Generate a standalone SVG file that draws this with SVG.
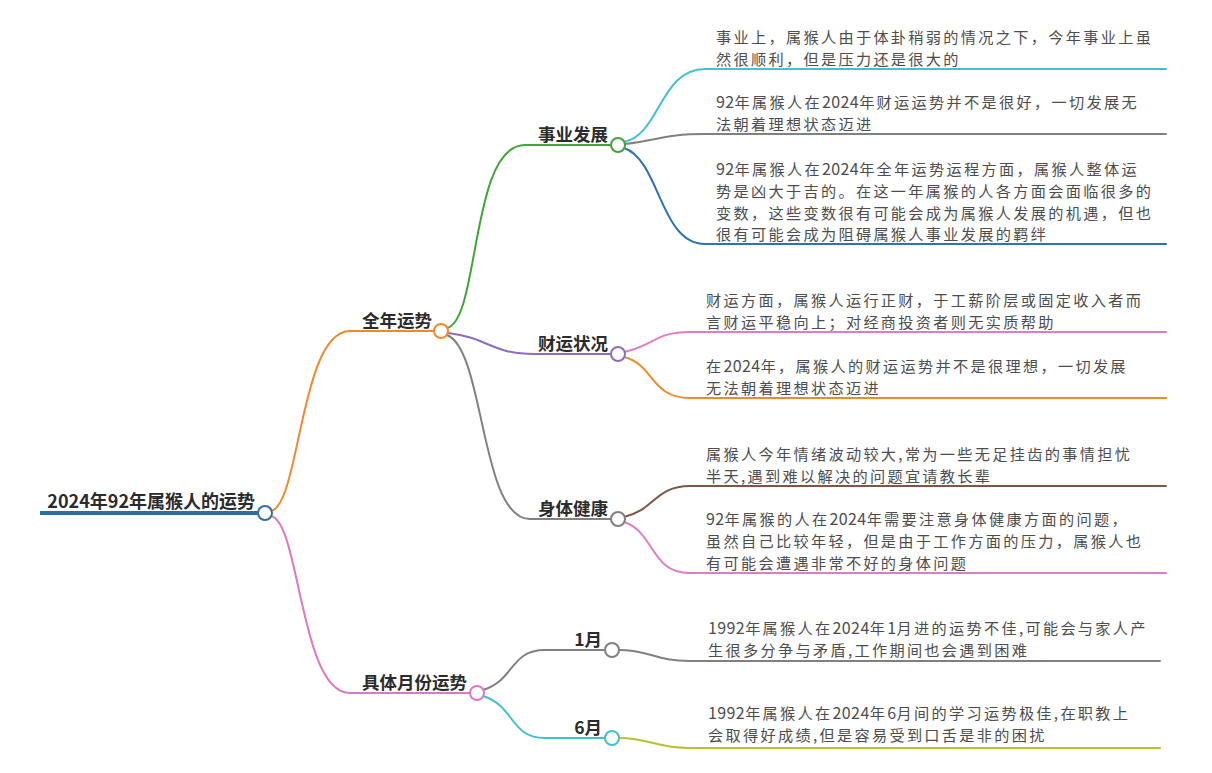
<svg xmlns="http://www.w3.org/2000/svg" width="1212" height="773" viewBox="0 0 1212 773">
<style>
text{font-family:"Noto Sans CJK SC","Noto Sans",sans-serif}
.lbl{font-size:17.5px;font-weight:bold;fill:#2b2b2b;text-anchor:end}
.root{font-size:18px;font-weight:bold;fill:#2b2b2b;text-anchor:end}
.leaf{font-size:15.2px;letter-spacing:2.3px;fill:#4d4d4d}
.d{font-size:16px;letter-spacing:0.4px}
.c{fill:none;stroke-width:2;stroke-linecap:round}
.dot{fill:#fff;stroke-width:2}
</style>
<rect width="1212" height="773" fill="#fff"/>
<g id="connectors">
<path class="c" stroke="#F0892B" d="M271,511 C300,505 300,331 350,331 L434,331"/>
<path class="c" stroke="#DE78C2" d="M271,516 C300,522 300,693 350,693 L470,693"/>
<path class="c" stroke="#43A33A" d="M447,328 C480,320 470,145 525,145 L611,145"/>
<path class="c" stroke="#8E6BBF" d="M448,333 C490,338 490,354 535,354 L611,354"/>
<path class="c" stroke="#808080" d="M447,335 C485,350 480,519 530,519 L611,519"/>
<path class="c" stroke="#41C0D8" d="M624,142 C660,135 660,69 705,69 L1166,69"/>
<path class="c" stroke="#808080" d="M625,144 C660,140 665,134 705,134 L1166,134"/>
<path class="c" stroke="#2C72B5" d="M624,148 C660,160 660,244 705,244 L1166,244"/>
<path class="c" stroke="#E07CC4" d="M624,352 C655,345 655,332 690,332 L1166,332"/>
<path class="c" stroke="#F08A28" d="M624,357 C655,365 650,398 690,398 L1166,398"/>
<path class="c" stroke="#7F5546" d="M624,517 C655,510 655,486 690,486 L1166,486"/>
<path class="c" stroke="#E07CC4" d="M624,522 C655,532 650,573 690,573 L1166,573"/>
<path class="c" stroke="#808080" d="M483,690 C515,680 510,650 545,650 L605,650"/>
<path class="c" stroke="#41C0D0" d="M483,696 C515,706 510,738 545,738 L605,738"/>
<path class="c" stroke="#808080" d="M619,650 C650,650 655,661 690,661 L1160,661"/>
<path class="c" stroke="#B8C12E" d="M619,738 C650,738 655,748 690,748 L1160,748"/>
<path fill="none" stroke="#2E6DA4" stroke-width="4" d="M40,513 L258,513"/>
</g>
<g id="root">
<text class="root" x="255" y="508">2024年92年属猴人的运势</text>
<circle class="dot" cx="265" cy="513" r="7" stroke="#2E6DA4"/>
</g>
<g id="n-quannian">
<text class="lbl" x="432" y="327">全年运势</text>
<circle class="dot" cx="441" cy="331" r="7" stroke="#F0892B"/>
</g>
<g id="n-shiye">
<text class="lbl" x="608" y="141">事业发展</text>
<circle class="dot" cx="618" cy="145" r="7" stroke="#43A33A"/>
</g>
<g id="n-caiyun">
<text class="lbl" x="608" y="350">财运状况</text>
<circle class="dot" cx="618" cy="354" r="7" stroke="#8E6BBF"/>
</g>
<g id="n-shenti">
<text class="lbl" x="608" y="515">身体健康</text>
<circle class="dot" cx="618" cy="519" r="7" stroke="#808080"/>
</g>
<g id="n-yuefen">
<text class="lbl" x="467" y="689">具体月份运势</text>
<circle class="dot" cx="477" cy="693" r="7" stroke="#DE78C2"/>
</g>
<g id="n-m1">
<text class="lbl" x="602" y="646">1月</text>
<circle class="dot" cx="612" cy="650" r="7" stroke="#808080"/>
</g>
<g id="n-m6">
<text class="lbl" x="602" y="734">6月</text>
<circle class="dot" cx="612" cy="738" r="7" stroke="#41C0D0"/>
</g>
<g id="leaf-1">
<text class="leaf" x="716" y="43">事业上，属猴人由于体卦稍弱的情况之下，今年事业上虽</text>
<text class="leaf" x="716" y="65">然很顺利，但是压力还是很大的</text>
</g>
<g id="leaf-2">
<text class="leaf" x="716" y="108"><tspan class="d">92</tspan>年属猴人在<tspan class="d">2024</tspan>年财运运势并不是很好，一切发展无</text>
<text class="leaf" x="716" y="130">法朝着理想状态迈进</text>
</g>
<g id="leaf-3">
<text class="leaf" x="716" y="175"><tspan class="d">92</tspan>年属猴人在<tspan class="d">2024</tspan>年全年运势运程方面，属猴人整体运</text>
<text class="leaf" x="716" y="197">势是凶大于吉的。在这一年属猴的人各方面会面临很多的</text>
<text class="leaf" x="716" y="218.5">变数，这些变数很有可能会成为属猴人发展的机遇，但也</text>
<text class="leaf" x="716" y="240">很有可能会成为阻碍属猴人事业发展的羁绊</text>
</g>
<g id="leaf-4">
<text class="leaf" x="706" y="306">财运方面，属猴人运行正财，于工薪阶层或固定收入者而</text>
<text class="leaf" x="706" y="328">言财运平稳向上；对经商投资者则无实质帮助</text>
</g>
<g id="leaf-5">
<text class="leaf" x="706" y="372">在<tspan class="d">2024</tspan>年，属猴人的财运运势并不是很理想，一切发展</text>
<text class="leaf" x="706" y="394">无法朝着理想状态迈进</text>
</g>
<g id="leaf-6">
<text class="leaf" x="706" y="460">属猴人今年情绪波动较大,常为一些无足挂齿的事情担忧</text>
<text class="leaf" x="706" y="482">半天,遇到难以解决的问题宜请教长辈</text>
</g>
<g id="leaf-7">
<text class="leaf" x="706" y="525"><tspan class="d">92</tspan>年属猴的人在<tspan class="d">2024</tspan>年需要注意身体健康方面的问题，</text>
<text class="leaf" x="706" y="547">虽然自己比较年轻，但是由于工作方面的压力，属猴人也</text>
<text class="leaf" x="706" y="569">有可能会遭遇非常不好的身体问题</text>
</g>
<g id="leaf-8">
<text class="leaf" x="708" y="634"><tspan class="d">1992</tspan>年属猴人在<tspan class="d">2024</tspan>年<tspan class="d">1</tspan>月进的运势不佳,可能会与家人产</text>
<text class="leaf" x="708" y="656">生很多分争与矛盾,工作期间也会遇到困难</text>
</g>
<g id="leaf-9">
<text class="leaf" x="708" y="719"><tspan class="d">1992</tspan>年属猴人在<tspan class="d">2024</tspan>年<tspan class="d">6</tspan>月间的学习运势极佳,在职教上</text>
<text class="leaf" x="708" y="741">会取得好成绩,但是容易受到口舌是非的困扰</text>
</g>
</svg>
